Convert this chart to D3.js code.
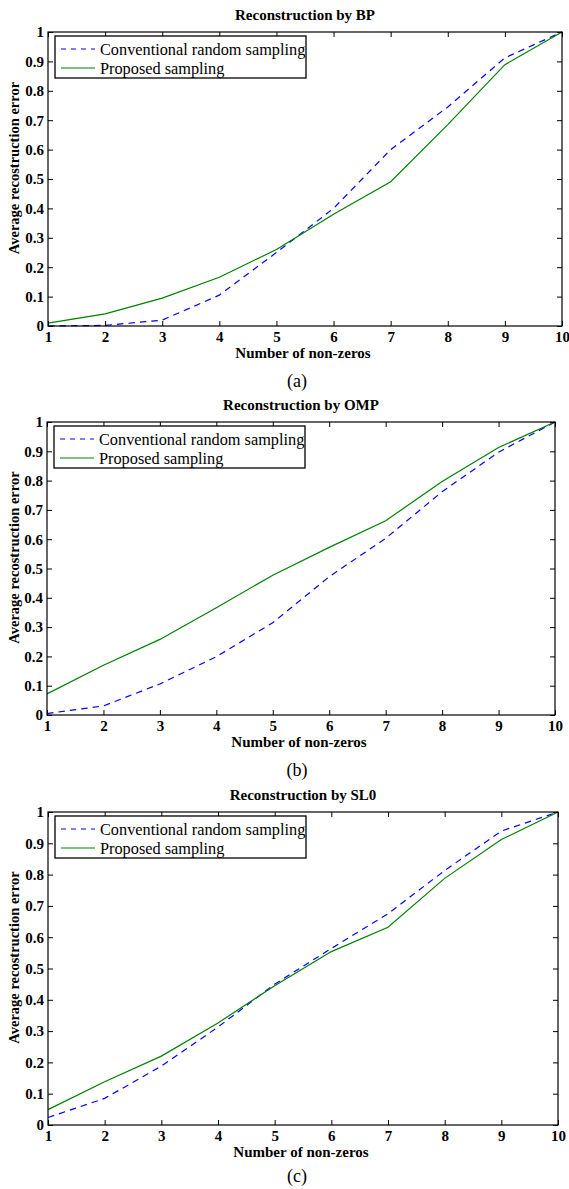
<!DOCTYPE html>
<html lang="en">
<head>
    <meta charset="UTF-8">
    <title>Reconstruction error</title>
    <script src="https://cdn.jsdelivr.net/npm/d3@7"></script>
    <style>
        html, body {
            margin: 0;
            padding: 0;
            background: #fff;
            overflow: hidden;
        }
    </style>
</head>
<body>
</body>
<script>
    // number of non-zeros
    let xs = [1, 2, 3, 4, 5, 6, 7, 8, 9, 10];
    let yTicks = [0, 0.1, 0.2, 0.3, 0.4, 0.5, 0.6, 0.7, 0.8, 0.9, 1];
    let yTickLabels = ['0', '0.1', '0.2', '0.3', '0.4', '0.5', '0.6', '0.7', '0.8', '0.9', '1'];

    let seriesNames = ['Conventional random sampling', 'Proposed sampling'];
    let titles = ['Reconstruction by BP', 'Reconstruction by OMP', 'Reconstruction by SL0'];
    let captions = ['(a)', '(b)', '(c)'];

    let bpConventional = [0, 0.002, 0.02, 0.105, 0.25, 0.40, 0.60, 0.745, 0.912, 1];
    let bpProposed = [0.01, 0.041, 0.095, 0.166, 0.26, 0.38, 0.491, 0.685, 0.889, 1];
    let ompConventional = [0.005, 0.031, 0.106, 0.199, 0.315, 0.472, 0.603, 0.762, 0.897, 1];
    let ompProposed = [0.072, 0.170, 0.258, 0.366, 0.477, 0.572, 0.663, 0.797, 0.913, 1];
    let sl0Conventional = [0.024, 0.085, 0.188, 0.313, 0.45, 0.564, 0.675, 0.813, 0.939, 1];
    let sl0Proposed = [0.049, 0.138, 0.220, 0.326, 0.445, 0.554, 0.632, 0.788, 0.912, 1];

    let width = 569;
    let height = 1189;
    let font = '"Liberation Serif", "Times New Roman", "DejaVu Serif", serif';

    let boxes = [
        {left: 48, right: 562, top: 32, bottom: 326},
        {left: 47, right: 555, top: 422, bottom: 715},
        {left: 48, right: 558, top: 812, bottom: 1125}
    ];
    let series = [
        [bpConventional, bpProposed],
        [ompConventional, ompProposed],
        [sl0Conventional, sl0Proposed]
    ];

    let colors = ['#0000ff', '#008000'];
    let dashes = ['6.5,5', null];

    let svg = d3.select('body').append('svg')
        .attr('width', width)
        .attr('height', height)
        .style('font-family', font);

    boxes.forEach((b, i) => {
        let x = d3.scaleLinear().domain([1, 10]).range([b.left, b.right]);
        let y = d3.scaleLinear().domain([0, 1]).range([b.bottom, b.top]);
        let g = svg.append('g');

        // lines
        let line = d3.line().x((d, k) => x(xs[k])).y(d => y(d));
        series[i].forEach((s, j) => {
            g.append('path')
                .attr('d', line(s))
                .attr('fill', 'none')
                .attr('stroke', colors[j])
                .attr('stroke-width', 1.2)
                .attr('stroke-dasharray', dashes[j]);
        });

        // axes, ticks pointing inward on every side
        let bottom = g.append('g').attr('transform', `translate(0,${b.bottom})`)
            .call(d3.axisBottom(x).tickValues(xs).tickSizeInner(-5).tickSizeOuter(0).tickPadding(5));
        let top = g.append('g').attr('transform', `translate(0,${b.top})`)
            .call(d3.axisTop(x).tickValues(xs).tickSizeInner(-5).tickSizeOuter(0).tickFormat(''));
        let left = g.append('g').attr('transform', `translate(${b.left},0)`)
            .call(d3.axisLeft(y).tickValues(yTicks).tickSizeInner(-5).tickSizeOuter(0).tickPadding(4)
                .tickFormat((d, k) => yTickLabels[k]));
        let right = g.append('g').attr('transform', `translate(${b.right},0)`)
            .call(d3.axisRight(y).tickValues(yTicks).tickSizeInner(-5).tickSizeOuter(0).tickFormat(''));

        [bottom, top, left, right].forEach(a => {
            a.attr('font-family', font);
            a.select('.domain').remove();
            a.selectAll('line').attr('stroke', '#000');
            a.selectAll('text')
                .attr('fill', '#000')
                .style('font-family', font)
                .style('font-size', '15px')
                .style('font-weight', 'bold');
        });

        g.append('rect')
            .attr('x', b.left).attr('y', b.top)
            .attr('width', b.right - b.left).attr('height', b.bottom - b.top)
            .attr('fill', 'none').attr('stroke', '#000').attr('stroke-width', 1.2);

        // title & labels
        g.append('text')
            .attr('x', (b.left + b.right) / 2).attr('y', b.top - 17)
            .attr('text-anchor', 'middle').attr('dy', '0.35em')
            .style('font-size', '15px').style('font-weight', 'bold')
            .text(titles[i]);
        g.append('text')
            .attr('x', (b.left + b.right) / 2 - 2).attr('y', b.bottom + 27)
            .attr('text-anchor', 'middle').attr('dy', '0.35em')
            .style('font-size', '15px').style('font-weight', 'bold')
            .text('Number of non-zeros');
        g.append('text')
            .attr('transform', `translate(14,${(b.top + b.bottom) / 2 - 11}) rotate(-90)`)
            .attr('text-anchor', 'middle').attr('dy', '0.35em')
            .style('font-size', '14.5px').style('font-weight', 'bold')
            .text('Average recostruction error');
        g.append('text')
            .attr('x', 297).attr('y', Math.min(b.bottom + 55, height - 13))
            .attr('text-anchor', 'middle').attr('dy', '0.35em')
            .style('font-size', '18px')
            .text(captions[i]);

        // legend
        let lg = g.append('g').attr('transform', `translate(${b.left + 7},${b.top + 4})`);
        lg.append('rect')
            .attr('width', 251).attr('height', 42)
            .attr('fill', '#fff').attr('stroke', '#000').attr('stroke-width', 1.3);
        seriesNames.forEach((name, j) => {
            let yy = 13 + j * 19;
            lg.append('line')
                .attr('x1', 6).attr('x2', 40).attr('y1', yy).attr('y2', yy)
                .attr('stroke', colors[j]).attr('stroke-width', 1.2)
                .attr('stroke-dasharray', j === 0 ? '5,5' : null);
            lg.append('text')
                .attr('x', 45).attr('y', yy).attr('dy', '0.35em')
                .style('font-size', '16.3px')
                .text(name);
        });
    });
</script>
</html>
